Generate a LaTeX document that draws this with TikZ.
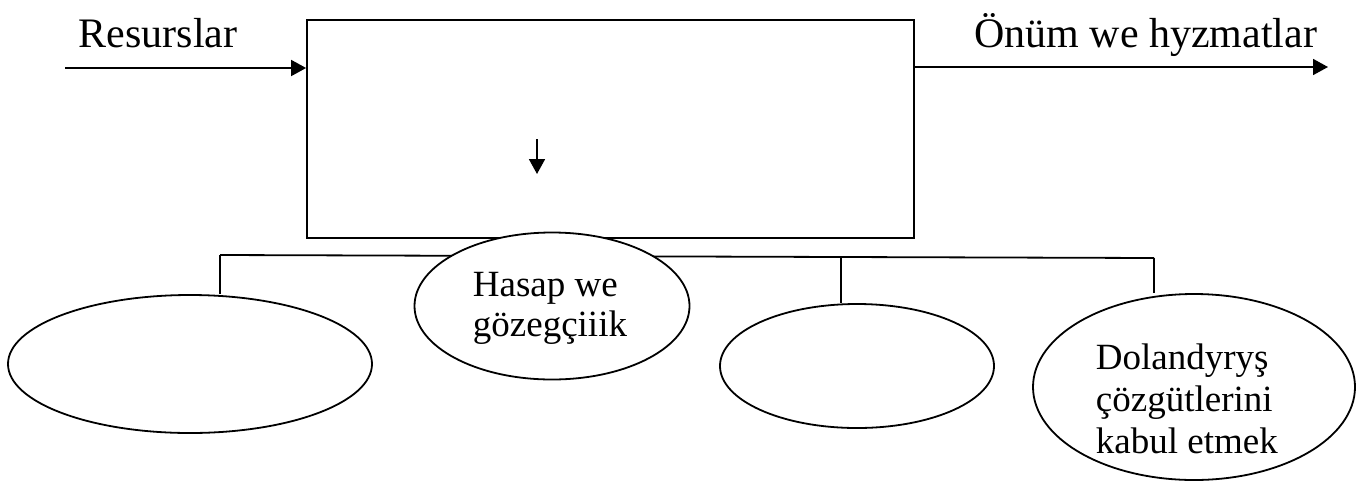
\documentclass[tikz,border=0pt]{standalone}
\usepackage{fontspec}
\setmainfont{Liberation Serif}
\usetikzlibrary{shapes.geometric,arrows.meta}
\begin{document}
\begin{tikzpicture}[x=0.5pt,y=-0.5pt,
  line width=0.9pt,
  arr/.style={-{Triangle[length=7.5pt,width=8pt]}},
  oval/.style={draw,ellipse,fill=white,inner sep=0pt},
  toplabel/.style={inner sep=0pt,font=\fontsize{21}{24}\selectfont},
  ovaltext/.style={inner sep=0pt,align=left,anchor=north west}]
\useasboundingbox (0,0) rectangle (1360,483);
% main box
\node[draw,minimum width=303.5pt,minimum height=109pt,inner sep=0pt] (box) at (610.5,129) {};
% top labels
\node[toplabel,anchor=base west] (res) at (78,47) {Resurslar};
\node[toplabel,anchor=base east] (onum) at (1318,47) {Önüm we hyzmatlar};
% arrows in/out
\coordinate (inL) at (65,68);
\coordinate (outR) at (1328,67);
\draw[arr] (inL) -- (inL -| box.west);
\draw[arr] (outR -| box.east) -- (outR);
% small arrow inside box
\coordinate (sa1) at (537,139);
\coordinate (sa2) at (537,174);
\draw[arr] (sa1) -- (sa2);
% bus
\coordinate (b1) at (220,255);
\coordinate (b2) at (841,257.5);
\coordinate (b3) at (1154,258);
\draw (b1) -- (b3);
% ovals
\node[oval,minimum width=182pt,minimum height=69pt] (e1) at (190,364) {};
\node[oval,minimum width=137.5pt,minimum height=73.5pt] (e2) at (552,306) {};
\node[oval,minimum width=137pt,minimum height=62pt] (e3) at (857,366) {};
\node[oval,minimum width=161pt,minimum height=93pt] (e4) at (1194,387) {};
% vertical connectors
\draw (b1) -- (b1 |- e1.north);
\draw (b2) -- (b2 |- e3.north);
\draw (b3) -- (b3 |- e4.north);
% oval texts
\node[ovaltext,font=\fontsize{18.5}{20}\selectfont] (t2) at (472,271.5) {Hasap we\\gözegçiiik};
\node[ovaltext,font=\fontsize{18.5}{21}\selectfont] (t4) at (1095,343) {Dolandyryş\\çözgütlerini\\kabul etmek};
\end{tikzpicture}
\end{document}
